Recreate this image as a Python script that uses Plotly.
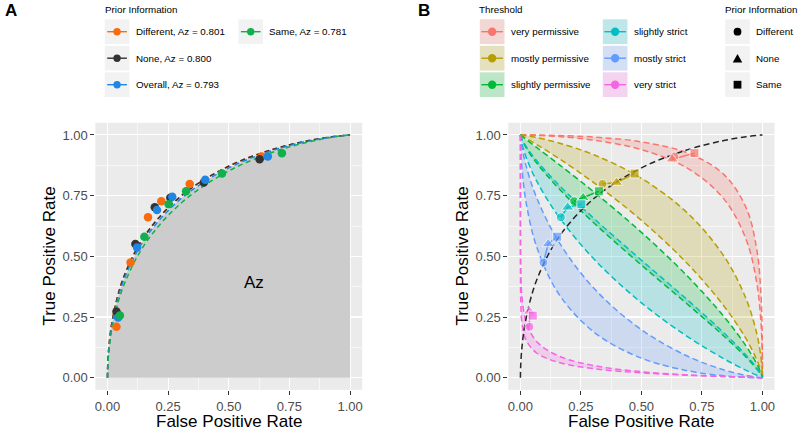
import plotly.graph_objects as go

W, H = 800, 430
FONT = "Arial, 'Liberation Sans', Helvetica, sans-serif"

# ---------------- data ----------------
THRESHOLDS = ["very permissive", "mostly permissive", "slightly permissive",
              "slightly strict", "mostly strict", "very strict"]
THRESHOLD_COLORS = ["#F8766D", "#B79F00", "#00BA38", "#00BFC4", "#619CFF", "#F564E3"]

PRIORS = ["Different", "None", "Overall", "Same"]
PRIOR_AZ = [0.801, 0.800, 0.793, 0.781]
PRIOR_COLORS = ["#FA6B0F", "#333333", "#1F86E6", "#10B04E"]

B_PRIORS = ["Different", "None", "Same"]
B_SYMBOLS = ["circle", "triangle-up", "square"]
B_SYMBOL_SIZES = [9, 11, 9]

# operating points (ordered as THRESHOLDS)
FPR_DIFFERENT = [0.636, 0.339, 0.222, 0.167, 0.095, 0.037]
TPR_DIFFERENT = [0.911, 0.798, 0.727, 0.661, 0.475, 0.210]
FPR_NONE = [0.627, 0.397, 0.259, 0.195, 0.115, 0.037]
TPR_NONE = [0.900, 0.804, 0.741, 0.702, 0.551, 0.273]
FPR_OVERALL = [0.661, 0.403, 0.267, 0.204, 0.122, 0.044]
TPR_OVERALL = [0.911, 0.815, 0.745, 0.691, 0.536, 0.248]
FPR_SAME = [0.719, 0.472, 0.324, 0.252, 0.152, 0.051]
TPR_SAME = [0.925, 0.841, 0.768, 0.715, 0.581, 0.256]

# fitted ROC curves
ROC_FPR = [0, 0.00003, 0.00023, 0.00135, 0.0062, 0.0228, 0.0668, 0.1587, 0.3085,
           0.5, 0.6915, 0.8413, 0.9332, 0.9772, 0.9938, 0.99865, 1]
ROC_TPR_DIFFERENT = [0, .0069, .0221, .059, .1329, .2537, .4157, .5937, .754,
                     .8722, .9438, .9792, .9936, .9983, .9997, .9999, 1]
ROC_TPR_NONE = [0, .0068, .0218, .0584, .1318, .2521, .4137, .5917, .7524,
                .8712, .9432, .9789, .9935, .9983, .9997, .9999, 1]
ROC_TPR_OVERALL = [0, .0062, .0202, .0548, .1251, .2420, .4013, .5793, .7422,
                   .8643, .9394, .9772, .9929, .9981, .9996, .9999, 1]
ROC_TPR_SAME = [0, .0053, .0176, .0489, .1139, .2248, .3798, .5573, .7237,
                .8518, .9324, .9741, .9917, .9978, .9995, .9999, 1]

# threshold bands
BAND_FPR = [0, 0.00003, 0.00023, 0.00135, 0.0062, 0.0228, 0.0668, 0.1587, 0.3085, 0.5,
            0.6915, 0.8413, 0.9332, 0.9772, 0.9938, 0.99865, 0.99977, 0.99997, 1]
BAND_UPPER_VERY_PERMISSIVE = [1, 1, 1, 1, 1, 0.9999, 0.9995, 0.9976, 0.9909, 0.9713,
                              0.9251, 0.8365, 0.6985, 0.5239, 0.3446, 0.1949, 0.0934, 0.0375, 0]
BAND_LOWER_VERY_PERMISSIVE = [1, 1, 1, 1, 0.9999, 0.9997, 0.9983, 0.9932, 0.9778, 0.9394,
                              0.8621, 0.7357, 0.5675, 0.3859, 0.2266, 0.1131, 0.0475, 0.0166, 0]
BAND_UPPER_MOSTLY_PERMISSIVE = [1, 1, 1, 0.9999, 0.9994, 0.9971, 0.9893, 0.9671, 0.9162, 0.8212,
                                0.6772, 0.5, 0.3228, 0.1788, 0.0838, 0.0329, 0.0107, 0.0029, 0]
BAND_LOWER_MOSTLY_PERMISSIVE = [1, 1, 0.9998, 0.9992, 0.9963, 0.9868, 0.9608, 0.9032, 0.7995, 0.648,
                                0.4681, 0.2946, 0.1587, 0.0721, 0.0274, 0.0087, 0.0023, 0.0005, 0]
BAND_UPPER_SLIGHTLY_PERMISSIVE = [1, 1, 0.9997, 0.9987, 0.9946, 0.9817, 0.9484, 0.879, 0.7611, 0.5987,
                                  0.4168, 0.2514, 0.1292, 0.0559, 0.0202, 0.006, 0.0015, 0.0003, 0]
BAND_LOWER_SLIGHTLY_PERMISSIVE = [1, 0.9996, 0.9982, 0.9936, 0.9803, 0.9484, 0.8849, 0.7794, 0.6331, 0.4641,
                                  0.3015, 0.1711, 0.0838, 0.0351, 0.0125, 0.0038, 0.001, 0.0002, 0]
BAND_UPPER_SLIGHTLY_STRICT = [1, 0.9997, 0.9985, 0.9945, 0.9826, 0.9535, 0.8944, 0.7939, 0.6517, 0.484,
                              0.3192, 0.1841, 0.0918, 0.0392, 0.0143, 0.0044, 0.0011, 0.0003, 0]
BAND_LOWER_SLIGHTLY_STRICT = [1, 0.9993, 0.9967, 0.9881, 0.9641, 0.9099, 0.8106, 0.6628, 0.484, 0.3085,
                              0.1685, 0.0778, 0.0301, 0.0096, 0.0026, 0.0006, 0.0001, 0, 0]
BAND_UPPER_MOSTLY_STRICT = [1, 0.9992, 0.996, 0.9842, 0.9505, 0.8749, 0.7422, 0.5596, 0.3632, 0.1977,
                            0.0885, 0.0322, 0.0094, 0.0022, 0.0004, 0.0001, 0, 0, 0]
BAND_LOWER_MOSTLY_STRICT = [1, 0.9953, 0.9821, 0.9452, 0.8643, 0.7257, 0.5398, 0.3446, 0.1841, 0.0808,
                            0.0287, 0.0082, 0.0019, 0.0003, 0, 0, 0, 0, 0]
BAND_UPPER_VERY_STRICT = [1, 0.6915, 0.5763, 0.4542, 0.3363, 0.2327, 0.1497, 0.0893, 0.0492, 0.025,
                          0.0117, 0.005, 0.002, 0.0007, 0.0002, 0, 0, 0, 0]
BAND_LOWER_VERY_STRICT = [1, 0.512, 0.409, 0.3121, 0.2266, 0.1562, 0.102, 0.063, 0.0367, 0.0202,
                          0.0104, 0.0051, 0.0023, 0.001, 0.0004, 0.0002, 0, 0, 0]

TICK_VALS = [0, 0.25, 0.5, 0.75, 1]
TICK_TEXT = ["0.00", "0.25", "0.50", "0.75", "1.00"]
MINOR_VALS = [0.125, 0.375, 0.625, 0.875]
AXIS_RANGE = [-0.05, 1.05]

X_TITLE = "False Positive Rate"
Y_TITLE = "True Positive Rate"
AZ_LABEL = "Az"
AZ_LABEL_POS = (0.603, 0.391)

# ---------------- helpers ----------------
def rgba(hex_color, a):
    h = hex_color.lstrip("#")
    r, g, b = int(h[0:2], 16), int(h[2:4], 16), int(h[4:6], 16)
    return f"rgba({r},{g},{b},{a})"

def X(p):
    return p / W

def Y(p):
    return 1 - p / H

fig = go.Figure()

roc_tpr = {"Different": ROC_TPR_DIFFERENT, "None": ROC_TPR_NONE,
           "Overall": ROC_TPR_OVERALL, "Same": ROC_TPR_SAME}
points = {"Different": (FPR_DIFFERENT, TPR_DIFFERENT), "None": (FPR_NONE, TPR_NONE),
          "Overall": (FPR_OVERALL, TPR_OVERALL), "Same": (FPR_SAME, TPR_SAME)}

# ---------------- panel A ----------------
fig.add_trace(go.Scatter(x=ROC_FPR, y=ROC_TPR_OVERALL, mode="lines",
                         line=dict(width=0, shape="spline"), fill="tozeroy",
                         fillcolor="#CCCCCC", hoverinfo="skip", showlegend=False,
                         xaxis="x", yaxis="y"))
for name, col in zip(PRIORS, PRIOR_COLORS):
    fig.add_trace(go.Scatter(x=ROC_FPR, y=roc_tpr[name], mode="lines",
                             line=dict(color=col, width=1.5, dash="5px,3.5px", shape="spline"),
                             hoverinfo="skip", showlegend=False, xaxis="x", yaxis="y"))
for name, col in zip(PRIORS, PRIOR_COLORS):
    fx, ty = points[name]
    fig.add_trace(go.Scatter(x=fx, y=ty, mode="markers", name=name,
                             marker=dict(color=col, size=8.5),
                             showlegend=False, xaxis="x", yaxis="y"))

# ---------------- panel B ----------------
bands = [
    (BAND_UPPER_VERY_PERMISSIVE, BAND_LOWER_VERY_PERMISSIVE),
    (BAND_UPPER_MOSTLY_PERMISSIVE, BAND_LOWER_MOSTLY_PERMISSIVE),
    (BAND_UPPER_SLIGHTLY_PERMISSIVE, BAND_LOWER_SLIGHTLY_PERMISSIVE),
    (BAND_UPPER_SLIGHTLY_STRICT, BAND_LOWER_SLIGHTLY_STRICT),
    (BAND_UPPER_MOSTLY_STRICT, BAND_LOWER_MOSTLY_STRICT),
    (BAND_UPPER_VERY_STRICT, BAND_LOWER_VERY_STRICT),
]
for (up, lo), col in zip(bands, THRESHOLD_COLORS):
    fig.add_trace(go.Scatter(x=BAND_FPR + BAND_FPR[::-1], y=up + lo[::-1], mode="lines",
                             fill="toself", fillcolor=rgba(col, 0.22),
                             line=dict(width=0, shape="spline"),
                             hoverinfo="skip", showlegend=False, xaxis="x2", yaxis="y2"))
for (up, lo), col in zip(bands, THRESHOLD_COLORS):
    for ys in (up, lo):
        fig.add_trace(go.Scatter(x=BAND_FPR, y=ys, mode="lines",
                                 line=dict(color=col, width=1.5, dash="6px,3.5px", shape="spline"),
                                 hoverinfo="skip", showlegend=False, xaxis="x2", yaxis="y2"))
fig.add_trace(go.Scatter(x=ROC_FPR, y=ROC_TPR_OVERALL, mode="lines",
                         line=dict(color="#262626", width=1.5, dash="6px,3.5px", shape="spline"),
                         hoverinfo="skip", showlegend=False, xaxis="x2", yaxis="y2"))
for i, (thr, col) in enumerate(zip(THRESHOLDS, THRESHOLD_COLORS)):
    xs = [FPR_DIFFERENT[i], FPR_NONE[i], FPR_SAME[i]]
    ys = [TPR_DIFFERENT[i], TPR_NONE[i], TPR_SAME[i]]
    fig.add_trace(go.Scatter(x=xs, y=ys, mode="lines+markers", name=thr,
                             line=dict(color=col, width=1.5),
                             marker=dict(color=col, symbol=B_SYMBOLS, size=B_SYMBOL_SIZES),
                             text=B_PRIORS, showlegend=False, xaxis="x2", yaxis="y2"))

# ---------------- axes ----------------
def axis(domain, anchor):
    return dict(domain=domain, anchor=anchor, range=AXIS_RANGE,
                tickmode="array", tickvals=TICK_VALS, ticktext=TICK_TEXT,
                ticks="outside", ticklen=4, tickwidth=1, tickcolor="#333333",
                tickfont=dict(size=13, color="#4D4D4D", family=FONT),
                showgrid=True, gridcolor="white", gridwidth=1.1,
                zeroline=False, showline=False, fixedrange=True,
                minor=dict(tickvals=MINOR_VALS, showgrid=True, gridcolor="white",
                           gridwidth=0.55, ticks=""))

XA = [94.6 / W, 362.1 / W]
XB = [508.6 / W, 775.5 / W]
YD = [1 - 389.9 / H, 1 - 122.8 / H]

fig.update_layout(
    width=W, height=H, margin=dict(l=0, r=0, t=0, b=0),
    paper_bgcolor="white", plot_bgcolor="#EBEBEB", showlegend=False,
    font=dict(family=FONT), hovermode=False,
    xaxis=axis(XA, "y"), yaxis=axis(YD, "x"),
    xaxis2=axis(XB, "y2"), yaxis2=axis(YD, "x2"),
)

# ---------------- text & legends ----------------
shapes = []
annotations = []

def text(x, y, s, size, color="black", xanchor="left", bold=False, angle=0):
    annotations.append(dict(xref="paper", yref="paper", x=X(x), y=Y(y),
                            text=f"<b>{s}</b>" if bold else s, showarrow=False,
                            xanchor=xanchor, yanchor="middle", textangle=angle,
                            borderpad=0, borderwidth=0,
                            font=dict(size=size, color=color, family=FONT)))

def rect(x0, y0, x1, y1, color):
    shapes.append(dict(type="rect", xref="paper", yref="paper", layer="above",
                       x0=X(x0), x1=X(x1), y0=Y(y1), y1=Y(y0),
                       fillcolor=color, line=dict(width=0)))

def seg(x0, y0, x1, y1, color, width):
    shapes.append(dict(type="line", xref="paper", yref="paper", layer="above",
                       x0=X(x0), x1=X(x1), y0=Y(y0), y1=Y(y1),
                       line=dict(color=color, width=width)))

def dot(cx, cy, r, color):
    shapes.append(dict(type="circle", xref="paper", yref="paper", layer="above",
                       x0=X(cx - r), x1=X(cx + r), y0=Y(cy + r), y1=Y(cy - r),
                       fillcolor=color, line=dict(width=0)))

def tri(cx, cy, w, h, color):
    path = (f"M {X(cx - w / 2)},{Y(cy + h / 2)} L {X(cx + w / 2)},{Y(cy + h / 2)} "
            f"L {X(cx)},{Y(cy - h / 2)} Z")
    shapes.append(dict(type="path", xref="paper", yref="paper", layer="above",
                       path=path, fillcolor=color, line=dict(width=0)))

KEY = 24.7
ROWS = [31.7, 58.2, 84.7]
LEG_TITLE_Y = 9.5
LEG_FONT = 9.8
KEY_BG = "#F2F2F2"

# panel letters
text(9.7, 10.5, "A", 17, xanchor="center", bold=True)
text(423.7, 10.0, "B", 17, xanchor="center", bold=True)

# axis titles
text((XA[0] * W + XA[1] * W) / 2, 421.7, X_TITLE, 17, xanchor="center")
text((XB[0] * W + XB[1] * W) / 2, 421.7, X_TITLE, 17, xanchor="center")
text(48.3, 256.4, Y_TITLE, 17, xanchor="center", angle=-90)
text(462.3, 256.4, Y_TITLE, 17, xanchor="center", angle=-90)

# Az label inside panel A
annotations.append(dict(xref="x", yref="y", x=AZ_LABEL_POS[0], y=AZ_LABEL_POS[1],
                        text=AZ_LABEL, showarrow=False, xanchor="center", yanchor="middle",
                        font=dict(size=17, color="black", family=FONT)))

# legend A : prior information
A_COLS = [104.0, 238.0]
text(104.0, LEG_TITLE_Y, "Prior Information", LEG_FONT)
for i, (name, az, col) in enumerate(zip(PRIORS, PRIOR_AZ, PRIOR_COLORS)):
    kx = A_COLS[i // 3]
    cy = ROWS[i % 3]
    rect(kx, cy - KEY / 2, kx + KEY, cy + KEY / 2, KEY_BG)
    seg(kx + 2.5, cy, kx + KEY - 2.5, cy, col, 1.4)
    dot(kx + KEY / 2, cy, 3.7, col)
    text(kx + KEY + 6.3, cy, f"{name}, Az = {az:.3f}", LEG_FONT)

# legend B : threshold
B_COLS = [480.0, 603.3]
text(479.3, LEG_TITLE_Y, "Threshold", LEG_FONT)
for i, (thr, col) in enumerate(zip(THRESHOLDS, THRESHOLD_COLORS)):
    kx = B_COLS[i // 3]
    cy = ROWS[i % 3]
    rect(kx, cy - KEY / 2, kx + KEY, cy + KEY / 2, KEY_BG)
    rect(kx, cy - KEY / 2, kx + KEY, cy + KEY / 2, rgba(col, 0.22))
    seg(kx + 1.5, cy, kx + KEY - 1.5, cy, col, 1.4)
    dot(kx + KEY / 2, cy, 4.2, col)
    text(kx + KEY + 6.2, cy, thr, LEG_FONT)

# legend B : prior information shapes
P_COL = 726.0
text(725.7, LEG_TITLE_Y, "Prior Information", LEG_FONT)
for i, (name, sym) in enumerate(zip(B_PRIORS, B_SYMBOLS)):
    cy = ROWS[i]
    cx = P_COL + KEY / 2
    rect(P_COL, cy - KEY / 2, P_COL + KEY, cy + KEY / 2, KEY_BG)
    if sym == "circle":
        dot(cx, cy, 3.9, "black")
    elif sym == "triangle-up":
        tri(cx, cy, 9.5, 8.5, "black")
    else:
        rect(cx - 3.9, cy - 3.9, cx + 3.9, cy + 3.9, "black")
    text(P_COL + KEY + 6.6, cy, name, LEG_FONT)

fig.update_layout(shapes=shapes, annotations=annotations)
fig.write_html(
    "out.html",
    config={"displayModeBar": False, "staticPlot": True},
    post_script="document.body.style.margin='0px';document.body.style.overflow='hidden';",
)
